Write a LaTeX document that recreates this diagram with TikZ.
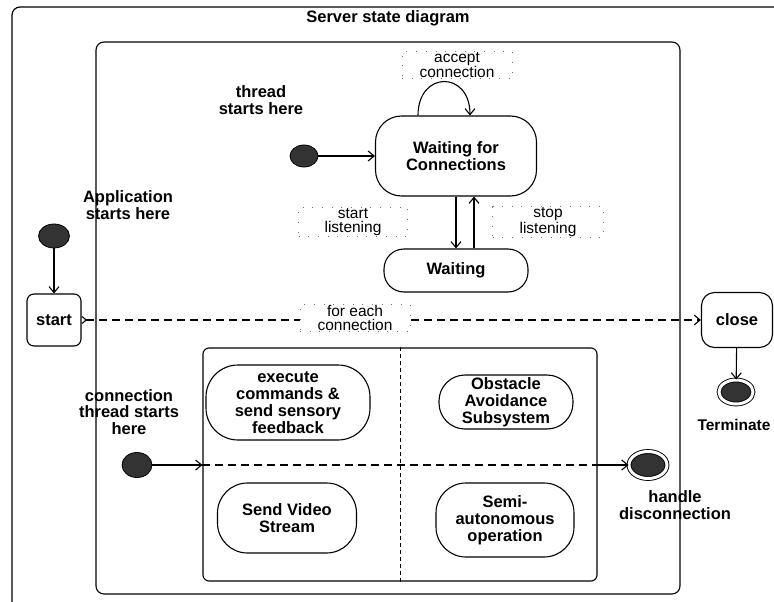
\documentclass[tikz,border=0pt]{standalone}
\usepackage{fontspec}
\setmainfont{Liberation Sans}
\usetikzlibrary{arrows.meta,shapes.geometric}
\begin{document}
\begin{tikzpicture}
        [x=1pt, y=-1pt,
        state/.style={draw, line width=1.1pt, align=center, inner sep=1pt, font=\fontsize{16.5}{17}\selectfont\bfseries},
        initial/.style={ellipse, fill=black!80, draw=black, line width=0.8pt, inner sep=0pt},
        final/.style={ellipse, fill=black!80, draw=black, double=white, double distance=3pt, line width=0.9pt, inner sep=0pt},
        note/.style={align=center, font=\fontsize{16.5}{16.5}\selectfont\bfseries},
        trans/.style={draw=black!55, dash pattern=on 0.7pt off 9pt, line width=0.9pt, fill=white, align=center,
          font=\fontsize{15.5}{14}\selectfont, minimum width=110pt, minimum height=25pt, inner sep=1pt},
        edge/.style={line width=1.1pt, -{Straight Barb[length=6pt, width=10pt]}},
        dashededge/.style={line width=1.1pt, dash pattern=on 8pt off 5pt}]

        \useasboundingbox (0,0) rectangle (774,602);
        \clip (0,0) rectangle (774,602);

        % frames
        \draw[line width=1.2pt, rounded corners=8pt] (12,640) -- (12,7) -- (820,7);
        \node[note] (title) at (388,18) {Server state diagram};
        \draw[line width=1.1pt, rounded corners=8pt] (96,42) rectangle (680,594);
        \node[draw, line width=1.1pt, rounded corners=6pt, minimum width=394pt, minimum height=233pt] (region) at (400,464.5) {};
        \draw[line width=1pt, dash pattern=on 4pt off 3pt] (region.north) -- (region.south);

        % states
        \node[state, minimum width=161pt, minimum height=80pt, rounded corners=26pt] (wfc) at (456,156) {Waiting for\\Connections};
        \node[state, minimum width=144pt, minimum height=43pt, rounded corners=20pt] (waiting) at (456,270.5) {Waiting};
        \node[state, minimum width=54pt, minimum height=52pt, rounded corners=7pt] (start) at (54,320) {start};
        \node[state, minimum width=71pt, minimum height=55pt, rounded corners=13pt] (close) at (737,320) {close};
        \node[state, minimum width=164pt, minimum height=75pt, rounded corners=32pt] (exec) at (288,402.5) {execute\\commands \&\\send sensory\\feedback};
        \node[state, minimum width=134pt, minimum height=54pt, rounded corners=26pt] (obstacle) at (506,402) {Obstacle\\Avoidance\\Subsystem};
        \node[state, minimum width=139pt, minimum height=70pt, rounded corners=30pt] (video) at (287,518) {Send Video\\Stream};
        \node[state, minimum width=138pt, minimum height=74pt, rounded corners=30pt] (semi) at (505,520) {Semi-\\autonomous\\operation};

        % initial and final states
        \node[initial, minimum width=28pt, minimum height=22pt] (tdot) at (304,156) {};
        \node[initial, minimum width=31pt, minimum height=24pt] (sdot) at (54,236) {};
        \node[initial, minimum width=30pt, minimum height=25pt] (cdot) at (137,465) {};
        \node[final, minimum width=34pt, minimum height=24pt] (term) at (736,392) {};
        \node[final, minimum width=38pt, minimum height=27pt] (hand) at (648,465) {};

        % labels
        \node[note] at (261,100) {thread\\starts here};
        \node[note] at (128,205) {Application\\starts here};
        \node[note] at (129,412) {connection\\thread starts\\here};
        \node[note, font=\fontsize{15.5}{16}\selectfont\bfseries] at (734,425) {Terminate};
        \node[note] at (675,505) {handle\\disconnection};

        % transitions
        \draw[edge] (tdot) -- (wfc);
        \draw[edge] ([xshift=-38pt]wfc.north) .. controls +(0,-45) and +(0,-45) .. ([xshift=14pt]wfc.north);
        \draw[edge] (wfc.south) -- (waiting.north);
        \draw[edge] ([xshift=18pt]waiting.north) -- ([xshift=18pt]wfc.south);
        \draw[edge] (sdot) -- (start);
        \draw[dashededge, {Straight Barb[reversed, length=4pt, width=7pt]}-{Straight Barb[length=6pt, width=10pt]}] (start) -- (close);
        \draw[edge] (close) -- (term);
        \coordinate (rin) at (region.west |- cdot);
        \coordinate (rout) at (region.east |- cdot);
        \draw[edge] (cdot) -- (rin);
        \draw[dashededge] (rin) -- (rout);
        \draw[edge] (rout) -- (hand);

        % transition labels
        \node[trans] at (457,65) {accept\\connection};
        \node[trans, minimum width=109pt] at (353,222) {start\\listening};
        \node[trans, minimum width=111pt] at (548,222) {stop\\listening};
        \node[trans] at (355,318) {for each\\connection};

        \end{tikzpicture}
\end{document}
